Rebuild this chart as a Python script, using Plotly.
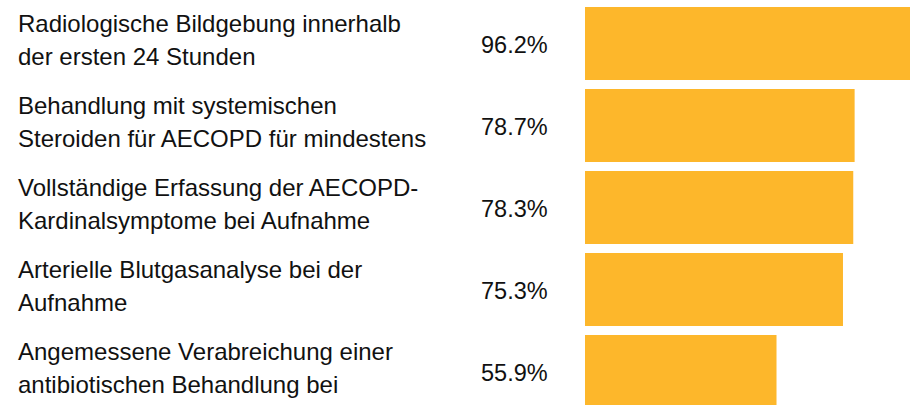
import plotly.graph_objects as go

# Data
label_line1 = [
    "Radiologische Bildgebung innerhalb",
    "Behandlung mit systemischen",
    "Vollständige Erfassung der AECOPD-",
    "Arterielle Blutgasanalyse bei der",
    "Angemessene Verabreichung einer",
]
label_line2 = [
    "der ersten 24 Stunden",
    "Steroiden für AECOPD für mindestens",
    "Kardinalsymptome bei Aufnahme",
    "Aufnahme",
    "antibiotischen Behandlung bei",
]
values = [96.2, 78.7, 78.3, 75.3, 55.9]

W, H = 910, 405
BAR_COLOR = "#FDB72B"
TEXT_COLOR = "#111111"
FONT = "Liberation Sans, Arial, sans-serif"
PX_PER_UNIT = 3.426
BAR_LEFT = 585
PITCH = 82.0
FIRST_CENTER = 43.5

idx = list(range(len(values)))

fig = go.Figure(
    go.Bar(
        x=values,
        y=idx,
        orientation="h",
        width=0.89,
        marker=dict(color=BAR_COLOR, line=dict(width=0)),
        hoverinfo="skip",
    )
)

annotations = []
for i, (l1, l2, v) in enumerate(zip(label_line1, label_line2, values)):
    annotations.append(dict(
        x=16 / W, xref="paper", y=i, yref="y", xanchor="left", yanchor="middle",
        text=l1, showarrow=False, yshift=20,
        font=dict(family=FONT, size=24, color=TEXT_COLOR),
    ))
    annotations.append(dict(
        x=16 / W, xref="paper", y=i, yref="y", xanchor="left", yanchor="middle",
        text=l2, showarrow=False, yshift=-13,
        font=dict(family=FONT, size=24, color=TEXT_COLOR),
    ))
    annotations.append(dict(
        x=479 / W, xref="paper", y=i, yref="y", xanchor="left", yanchor="middle",
        text=f"{v:.1f}%", showarrow=False, yshift=-1,
        font=dict(family=FONT, size=23.5, color=TEXT_COLOR),
    ))

y_top = -FIRST_CENTER / PITCH
y_bot = (H - FIRST_CENTER) / PITCH

fig.update_layout(
    width=W, height=H,
    margin=dict(l=0, r=0, t=0, b=0),
    paper_bgcolor="white", plot_bgcolor="white",
    showlegend=False,
    xaxis=dict(domain=[BAR_LEFT / W, 1], range=[0, (W - BAR_LEFT) / PX_PER_UNIT],
               visible=False, fixedrange=True),
    yaxis=dict(domain=[0, 1], range=[y_bot, y_top],
               visible=False, fixedrange=True),
    annotations=annotations,
)

fig.write_html(
    "out.html",
    config={"displayModeBar": False},
    post_script="document.body.style.margin='0';document.body.style.overflow='hidden';",
)
